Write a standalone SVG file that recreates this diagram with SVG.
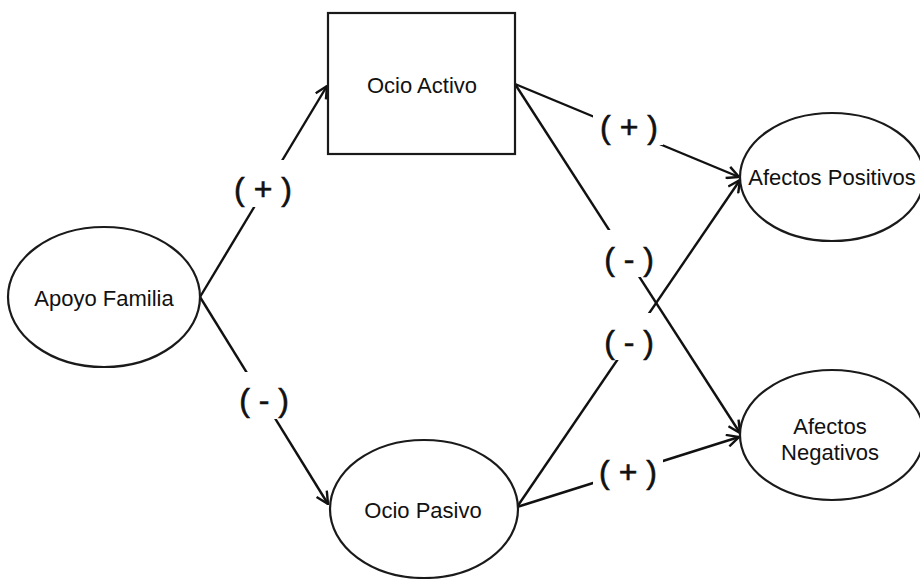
<svg xmlns="http://www.w3.org/2000/svg" width="920" height="579" viewBox="0 0 920 579">
<style>
.node{fill:#fff;stroke:#1a1a1a;stroke-width:2.2}
.t{font-family:"Liberation Sans",Arial,sans-serif;font-size:22px;fill:#111;text-anchor:middle}
.lbl{font-family:"Liberation Sans",Arial,sans-serif;font-size:32px;fill:#111;stroke:#111;stroke-width:0.6;text-anchor:middle}
.edge{stroke:#111;stroke-width:2.4;fill:none;marker-end:url(#arr)}
.bg{fill:#fff;stroke:none}
</style>
<defs>
<marker id="arr" viewBox="0 0 14 14" refX="13" refY="7" markerWidth="14" markerHeight="14" markerUnits="userSpaceOnUse" orient="auto">
<path d="M1,1 L13,7 L1,13" fill="none" stroke="#111" stroke-width="2.4"/>
</marker>
</defs>
<rect width="920" height="579" fill="#fff"/>
<g id="edges">
<line class="edge" x1="200" y1="297" x2="327" y2="86"/>
<line class="edge" x1="200" y1="297" x2="328" y2="504"/>
<line class="edge" x1="515" y1="84" x2="739" y2="177"/>
<line class="edge" x1="515" y1="84" x2="740" y2="433"/>
<line class="edge" x1="517" y1="507" x2="740" y2="180"/>
<line class="edge" x1="517" y1="507" x2="739" y2="437"/>
<g id="labels">
<rect class="bg" x="228" y="160" width="70" height="47"/>
<text class="lbl" x="263" y="200">( + )</text>
<rect class="bg" x="229" y="372" width="70" height="47"/>
<text class="lbl" x="264" y="411">( - )</text>
<rect class="bg" x="593" y="98" width="70" height="47"/>
<text class="lbl" x="629" y="138">( + )</text>
<rect class="bg" x="594" y="230" width="70" height="47"/>
<text class="lbl" x="629" y="270">( - )</text>
<rect class="bg" x="597" y="313" width="63" height="47"/>
<text class="lbl" x="629" y="353">( - )</text>
<rect class="bg" x="593" y="443" width="70" height="47"/>
<text class="lbl" x="628" y="483">( + )</text>
</g>
</g>
<g id="apoyo">
<ellipse class="node" cx="104" cy="297" rx="96" ry="70"/>
<text class="t" x="104" y="306">Apoyo Familia</text>
</g>
<g id="activo">
<rect class="node" x="328" y="13" width="187" height="141" stroke="#333"/>
<text class="t" x="422" y="93">Ocio Activo</text>
</g>
<g id="pasivo">
<ellipse class="node" cx="424" cy="509" rx="94" ry="69"/>
<text class="t" x="423" y="518">Ocio Pasivo</text>
</g>
<g id="positivos">
<ellipse class="node" cx="832" cy="177" rx="92" ry="64"/>
<text class="t" x="832" y="185">Afectos Positivos</text>
</g>
<g id="negativos">
<ellipse class="node" cx="832" cy="435" rx="92" ry="65"/>
<text class="t" x="830" y="434">Afectos</text>
<text class="t" x="830" y="460">Negativos</text>
</g>
</svg>
